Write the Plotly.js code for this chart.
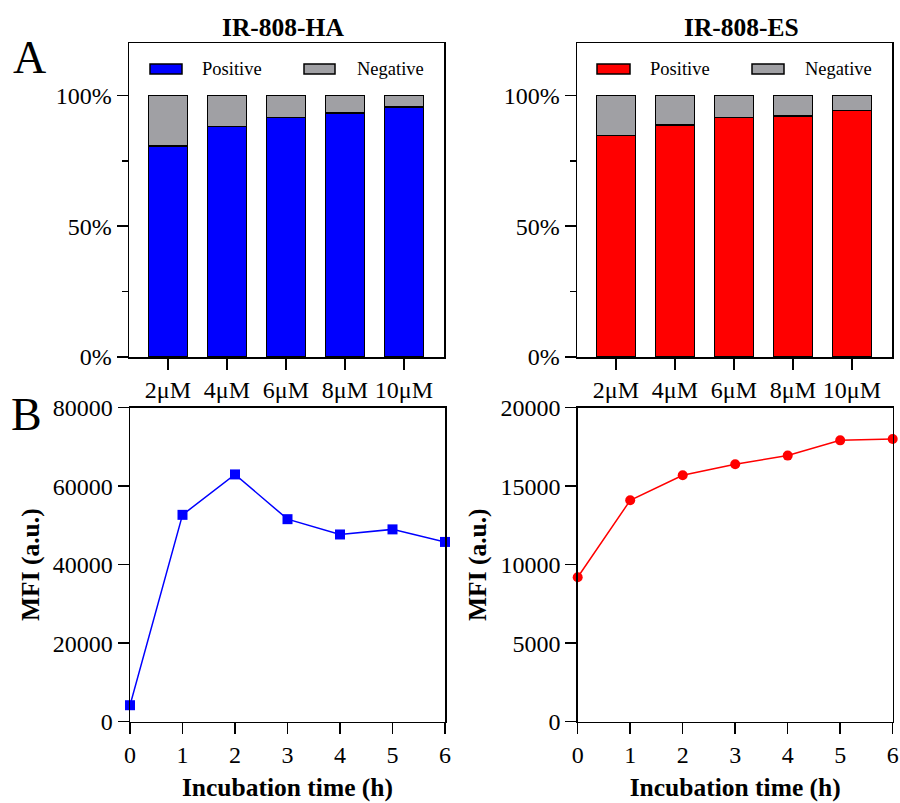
<!DOCTYPE html>
<html>
<head>
<meta charset="utf-8">
<script src="https://cdn.plot.ly/plotly-3.0.1.min.js"></script>
<style>html,body{margin:0;padding:0;background:#fff;}#chart{width:900px;height:803px;}</style>
</head>
<body>
<div id="chart"></div>
<script>
// ---- data ----
const concentrations = ["2μM", "4μM", "6μM", "8μM", "10μM"];
const haPositive = [80.7, 88.1, 91.6, 93.3, 95.6];
const haNegative = [19.3, 11.9, 8.4, 6.7, 4.4];
const esPositive = [84.6, 88.7, 91.5, 92.1, 94.3];
const esNegative = [15.4, 11.3, 8.5, 7.9, 5.7];
const seriesNames = ["Positive", "Negative"];
const panelTitles = ["IR-808-HA", "IR-808-ES"];
const pctTickVals = [0, 50, 100];
const pctTickText = ["0%", "50%", "100%"];

const hours = [0, 1, 2, 3, 4, 5, 6];
const haMFI = [4200, 52700, 63000, 51600, 47700, 49000, 45800];
const esMFI = [9200, 14100, 15700, 16400, 16950, 17920, 18010];

// ---- style ----
const FONT = "'Liberation Serif', 'Times New Roman', serif";
const BLUE = "#0000ff", RED = "#ff0000", GRAY = "#a0a0a4";
const px = x => x / 900;
const py = y => 1 - y / 803;

const barCommon = {type: "bar", width: 0.66, showlegend: false, hoverinfo: "x+y"};

const traces = [
  Object.assign({}, barCommon, {x: concentrations, y: haPositive, name: seriesNames[0], marker: {color: BLUE, line: {color: "#000", width: 1.5}}, xaxis: "x", yaxis: "y"}),
  Object.assign({}, barCommon, {x: concentrations, y: haNegative, name: seriesNames[1], marker: {color: GRAY, line: {color: "#000", width: 1.5}}, xaxis: "x", yaxis: "y"}),
  Object.assign({}, barCommon, {x: concentrations, y: esPositive, name: seriesNames[0], marker: {color: RED, line: {color: "#000", width: 1.5}}, xaxis: "x2", yaxis: "y2"}),
  Object.assign({}, barCommon, {x: concentrations, y: esNegative, name: seriesNames[1], marker: {color: GRAY, line: {color: "#000", width: 1.5}}, xaxis: "x2", yaxis: "y2"}),
  {type: "scatter", mode: "lines+markers", x: hours, y: haMFI, xaxis: "x3", yaxis: "y3", showlegend: false, cliponaxis: false,
   line: {color: BLUE, width: 1.5}, marker: {symbol: "square", size: 10, color: BLUE}},
  {type: "scatter", mode: "lines+markers", x: hours, y: esMFI, xaxis: "x4", yaxis: "y4", showlegend: false, cliponaxis: false,
   line: {color: RED, width: 1.5}, marker: {symbol: "circle", size: 10, color: RED}}
];

const tickFont = {family: FONT, size: 24, color: "#000"};
const titleFont = {family: FONT, size: 25.5, color: "#000", weight: "bold"};
const axisBase = {showline: true, mirror: true, linecolor: "#000", linewidth: 1.5, ticks: "outside", ticklen: 11, tickwidth: 1.5, tickcolor: "#000",
  showgrid: false, zeroline: false, tickfont: tickFont, fixedrange: true};

function barX(dom) { return Object.assign({}, axisBase, {domain: dom, type: "category", range: [-0.66, 4.68], ticklen: 11}); }
function barY(dom, anchor) {
  return Object.assign({}, axisBase, {domain: dom, anchor: anchor, range: [0, 120], tickmode: "array", tickvals: pctTickVals, ticktext: pctTickText,
    minor: {tickmode: "array", tickvals: [25, 75], ticks: "outside", ticklen: 6, tickwidth: 1.5, tickcolor: "#000"}});
}
function lineX(dom, anchor) {
  return Object.assign({}, axisBase, {domain: dom, anchor: anchor, range: [0, 6], dtick: 1, tick0: 0,
    title: {text: "Incubation time (h)", font: titleFont, standoff: 11}});
}
function lineY(dom, anchor, max, dt) {
  return Object.assign({}, axisBase, {domain: dom, anchor: anchor, range: [0, max], dtick: dt, tick0: 0, tickformat: "d",
    title: {text: "MFI (a.u.)", font: titleFont, standoff: 6}});
}

const topY = [py(357), py(43)];
const botY = [py(721.7), py(407.7)];

// legend boxes drawn as shapes
function legendBox(x1, x2, color) {
  return {type: "rect", xref: "paper", yref: "paper", x0: px(x1), x1: px(x2), y0: py(74), y1: py(64), fillcolor: color, line: {color: "#000", width: 1.5}};
}
const shapes = [
  legendBox(150, 182, BLUE), legendBox(304, 335, GRAY),
  legendBox(597, 630, RED), legendBox(752, 784, GRAY)
];

function ann(text, x, y, size, bold, anchor) {
  return {text: text, xref: "paper", yref: "paper", x: px(x), y: py(y), xanchor: anchor || "center", yanchor: "middle", showarrow: false,
    font: {family: FONT, size: size, color: "#000", weight: bold ? "bold" : "normal"}};
}
const annotations = [
  ann(panelTitles[0], 283, 27, 25.5, true),
  ann(panelTitles[1], 741, 27, 25.5, true),
  ann("A", 29, 58, 46, false),
  ann("B", 26, 415, 46, false),
  ann(seriesNames[0], 200, 69, 18.5, false, "left"),
  ann(seriesNames[1], 355, 69, 18.5, false, "left"),
  ann(seriesNames[0], 648, 69, 18.5, false, "left"),
  ann(seriesNames[1], 803, 69, 18.5, false, "left")
];

const layout = {
  width: 900, height: 803, margin: {l: 0, r: 0, t: 0, b: 0}, paper_bgcolor: "#fff", plot_bgcolor: "#fff",
  barmode: "stack", showlegend: false, font: {family: FONT, color: "#000"},
  xaxis: Object.assign(barX([px(129), px(444)]), {anchor: "y"}),
  yaxis: barY(topY, "x"),
  xaxis2: Object.assign(barX([px(577), px(892)]), {anchor: "y2"}),
  yaxis2: barY(topY, "x2"),
  xaxis3: lineX([px(130), px(445)], "y3"),
  yaxis3: lineY(botY, "x3", 80000, 20000),
  xaxis4: lineX([px(577.7), px(892.7)], "y4"),
  yaxis4: lineY(botY, "x4", 20000, 5000),
  shapes: shapes,
  annotations: annotations
};

Plotly.newPlot("chart", traces, layout, {displayModeBar: false, staticPlot: true});
</script>
</body>
</html>
